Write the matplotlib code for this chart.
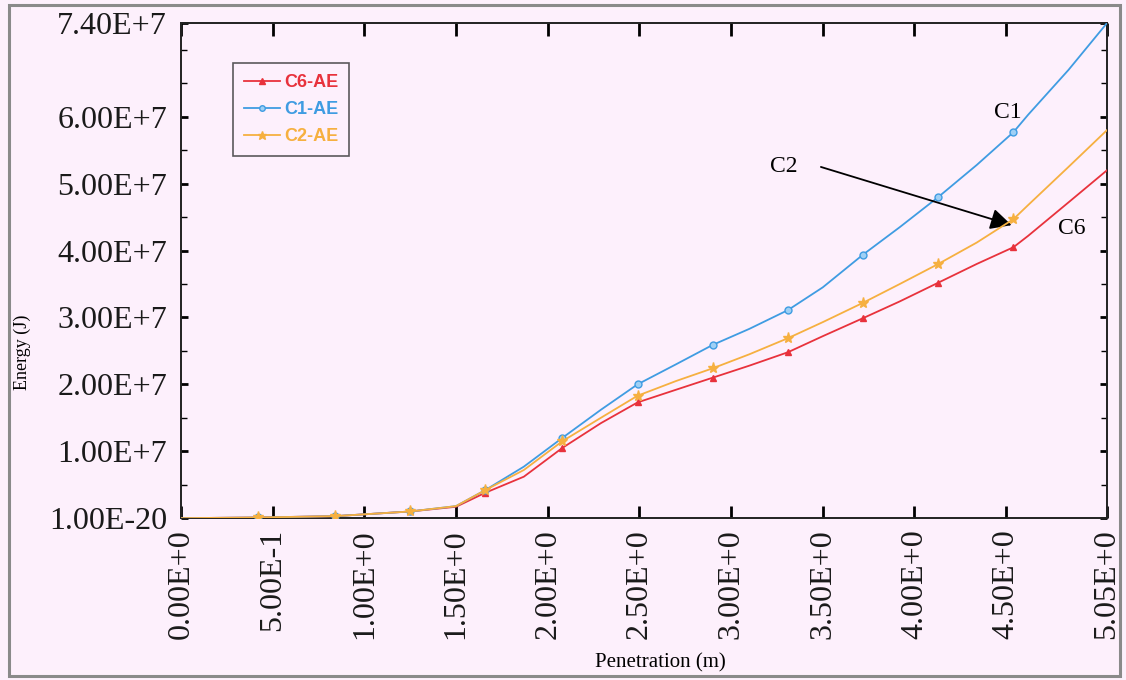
import matplotlib
matplotlib.use("Agg")
import matplotlib.pyplot as plt
from matplotlib.patches import Rectangle
from matplotlib.ticker import FixedLocator, MultipleLocator

# ---------------- data ----------------
penetration = [0.0, 0.42, 0.84, 1.25, 1.5, 1.66, 1.87, 2.08, 2.29, 2.49, 2.7, 2.9,
               3.1, 3.31, 3.5, 3.72, 3.92, 4.13, 4.34, 4.54, 4.62, 4.84, 5.05]
marker_idx = [1, 2, 3, 5, 7, 9, 11, 13, 15, 17, 19]

c6_ae = [0, 0.01, 0.03, 0.10, 0.17, 0.38, 0.62, 1.05, 1.42, 1.73, 1.92, 2.10,
         2.28, 2.48, 2.72, 2.99, 3.24, 3.52, 3.80, 4.05, 4.22, 4.72, 5.20]
c1_ae = [0, 0.01, 0.03, 0.10, 0.18, 0.42, 0.77, 1.20, 1.62, 2.00, 2.30, 2.59,
         2.83, 3.11, 3.45, 3.94, 4.35, 4.80, 5.28, 5.77, 6.03, 6.70, 7.40]
c2_ae = [0, 0.01, 0.03, 0.10, 0.18, 0.42, 0.72, 1.15, 1.50, 1.83, 2.05, 2.24,
         2.45, 2.69, 2.93, 3.22, 3.50, 3.80, 4.12, 4.47, 4.68, 5.25, 5.80]
scale = 1e7

xticks = [0.0, 0.5, 1.0, 1.5, 2.0, 2.5, 3.0, 3.5, 4.0, 4.5, 5.05]
xtick_labels = ["0.00E+0", "5.00E-1", "1.00E+0", "1.50E+0", "2.00E+0", "2.50E+0",
                "3.00E+0", "3.50E+0", "4.00E+0", "4.50E+0", "5.05E+0"]
yticks = [0, 1e7, 2e7, 3e7, 4e7, 5e7, 6e7, 7.4e7]
ytick_labels = ["1.00E-20", "1.00E+7", "2.00E+7", "3.00E+7", "4.00E+7",
                "5.00E+7", "6.00E+7", "7.40E+7"]

# ---------------- style ----------------
bg = "#fdf0fc"
red = "#e8323c"
blue = "#3f9ce2"
orange = "#f6b040"
serif = ["Liberation Serif", "DejaVu Serif"]

fig = plt.figure(figsize=(11.26, 6.8), dpi=100, facecolor=bg)
ax = fig.add_axes([0.1607, 0.238, 0.8224, 0.728], facecolor=bg)

# outer frame
fig.patches.append(Rectangle((0.008, 0.006), 0.987, 0.986, transform=fig.transFigure,
                             fill=False, edgecolor="#8a8a8a", lw=2.2))

def yv(v):
    return [a * scale for a in v]

ax.plot(penetration, yv(c6_ae), color=red, lw=1.3, marker="^", ms=5,
        markevery=marker_idx, label="C6-AE", zorder=3)
ax.plot(penetration, yv(c1_ae), color=blue, lw=1.3, marker="o", ms=5,
        mfc="#9fd0f5", mec=blue, markevery=marker_idx, label="C1-AE", zorder=3)
ax.plot(penetration, yv(c2_ae), color=orange, lw=1.3, marker="*", ms=8,
        markevery=marker_idx, label="C2-AE", zorder=4)

ax.set_xlim(0, 5.05)
ax.set_ylim(0, 7.4e7)

ax.xaxis.set_major_locator(FixedLocator(xticks))
ax.set_xticklabels(xtick_labels, rotation=90, fontsize=23, family=serif,
                   color="#1a1a1a")
ax.yaxis.set_major_locator(FixedLocator(yticks))
ax.set_yticklabels(ytick_labels, fontsize=23, family=serif, color="#1a1a1a")
ax.yaxis.set_minor_locator(MultipleLocator(5e6))

ax.tick_params(axis="x", which="major", direction="in", length=9, width=2,
               top=True, pad=8)
ax.tick_params(axis="y", which="major", direction="in", length=5, width=2,
               right=True, pad=10)
ax.tick_params(axis="y", which="minor", direction="in", length=4, width=1,
               right=True)
for s in ax.spines.values():
    s.set_linewidth(1.4)
    s.set_color("#222222")

fig.text(660 / 1126, 1 - 663 / 680, "Penetration (m)", fontsize=15, family=serif,
         ha="center", va="center")
fig.text(22 / 1126, 1 - 352 / 680, "Energy (J)", fontsize=13, family=serif,
         ha="center", va="center", rotation=90)

leg = ax.legend(loc="upper left", bbox_to_anchor=(0.047, 0.937), frameon=True,
                fancybox=False, edgecolor="#333333", facecolor=bg,
                prop={"family": ["Liberation Sans Narrow", "Liberation Sans"],
                      "weight": "bold", "size": 13},
                handlelength=2.0, handletextpad=0.2, borderpad=0.6,
                labelspacing=0.55, markerscale=0.8)
leg.get_frame().set_linewidth(1.2)
for txt, col in zip(leg.get_texts(), [red, blue, orange]):
    txt.set_color(col)

ax.text(4.51, 6.06e7, "C1", fontsize=17, family=serif, ha="center", va="center")
ax.text(3.29, 5.25e7, "C2", fontsize=17, family=serif, ha="center", va="center")
ax.text(4.86, 4.33e7, "C6", fontsize=17, family=serif, ha="center", va="center")
ax.annotate("", xy=(4.53, 4.38e7), xytext=(3.49, 5.25e7),
            arrowprops=dict(arrowstyle="-|>", color="black", lw=1.3,
                            mutation_scale=32, shrinkA=0, shrinkB=0))

fig.savefig("out.png", dpi=100, facecolor=bg)
